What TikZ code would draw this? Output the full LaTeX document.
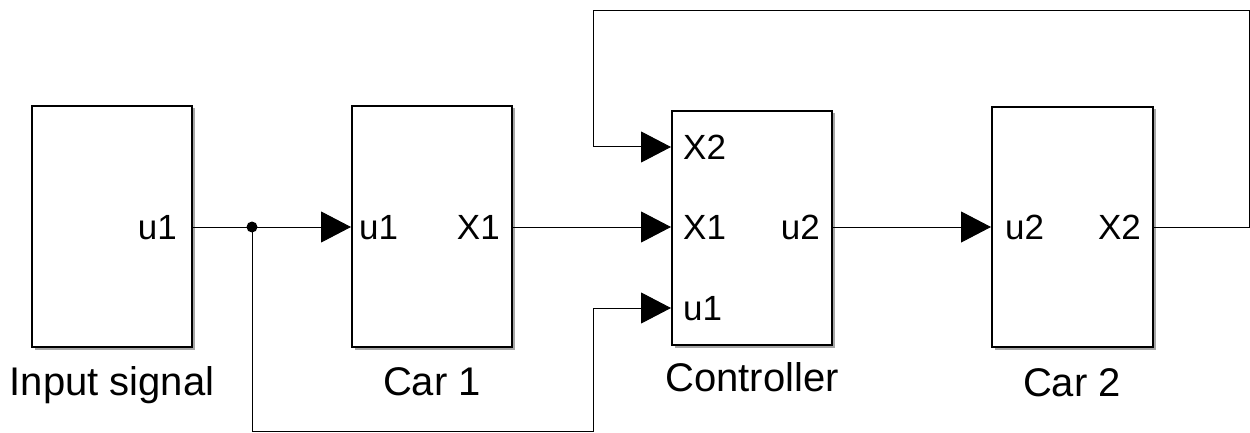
\documentclass[tikz,border=0pt]{standalone}
\usepackage{fontspec}
\setmainfont{Liberation Sans}
\usetikzlibrary{arrows.meta,shadows,calc}
\begin{document}
\begin{tikzpicture}[x=1pt,y=-1pt,
 block/.style={draw,line width=2pt,fill=white,minimum width=160pt,inner sep=0pt,
   drop shadow={shadow xshift=2.5pt,shadow yshift=-2.5pt,fill=black!35,opacity=1}},
 port/.style={font=\fontsize{35}{35}\selectfont,inner sep=0pt,text height=25pt,text depth=0pt},
 bname/.style={font=\fontsize{40}{40}\selectfont,inner sep=0pt,anchor=base},
 sig/.style={line width=1pt},
 arr/.style={sig,-{Triangle[length=30pt,width=31pt]}},
 junction/.style={circle,fill,inner sep=0pt,minimum size=11pt},
]
\useasboundingbox (0,0) rectangle (1250,433);
% blocks
\node[block,minimum height=241pt] (in) at (112,226.5) {};
\node[block,minimum height=241pt] (car1) at (432,226.5) {};
\node[block,minimum height=234pt] (ctrl) at (752,228) {};
\node[block,minimum width=161pt,minimum height=240pt] (car2) at (1072.5,227) {};
% port labels
\node[port,anchor=east] (inu1) at (177,227) {u1};
\node[port,anchor=west] (c1u1) at (359,227) {u1};
\node[port,anchor=east] (c1x1) at (500,227) {X1};
\node[port,anchor=west] (ctx2) at (683,147) {X2};
\node[port,anchor=west] (ctx1) at (683,227) {X1};
\node[port,anchor=west] (ctu1) at (683,308) {u1};
\node[port,anchor=east] (ctu2) at (820,227) {u2};
\node[port,anchor=west] (c2u2) at (1005,227) {u2};
\node[port,anchor=east] (c2x2) at (1141,227) {X2};
% block names
\node[bname] (nin) at (112,395) {Input signal};
\node[bname] (ncar1) at (432,395) {Car 1};
\node[bname] (nctrl) at (752,391) {Controller};
\node[bname] (ncar2) at (1072,396) {Car 2};
% connectors
\node[junction] (j) at (252,227) {};
\coordinate (bl) at (252,431);
\coordinate (br) at (593,431);
\coordinate (tr) at (1249,11);
\coordinate (tl) at (593,11);
\draw[arr] (in.east |- inu1) -- (car1.west |- c1u1);
\draw[arr] (j.center) -- (bl) -- (br) |- (ctrl.west |- ctu1);
\draw[arr] (car1.east |- c1x1) -- (ctrl.west |- ctx1);
\draw[arr] (ctrl.east |- ctu2) -- (car2.west |- c2u2);
\draw[arr] (car2.east |- c2x2) -| (tr) -- (tl) |- (ctrl.west |- ctx2);
\end{tikzpicture}
\end{document}
